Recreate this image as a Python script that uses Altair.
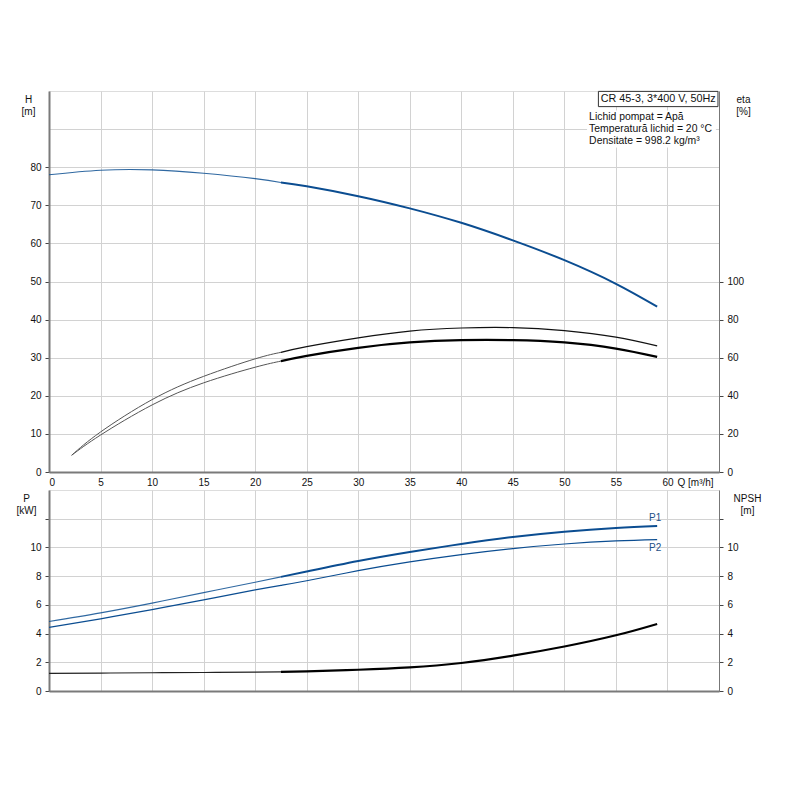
import altair as alt
import pandas as pd

# ---------------- data ----------------
Q_H = [0, 5, 10, 15, 20, 22.5, 25, 30, 35, 40, 45, 50, 55, 59]
H = [78.0, 79.2, 79.3, 78.4, 77.0, 76.0, 75.0, 72.4, 69.2, 65.4, 60.8, 55.6, 49.4, 43.4]

Q_ETA = [2.2, 5, 10, 15, 20, 22.5, 25, 30, 35, 40, 45, 50, 55, 59]
ETA_UPPER = [8.8, 21.0, 38.0, 50.2, 59.4, 62.8, 65.8, 70.4, 74.0, 75.6, 75.8, 74.2, 70.8, 66.2]
ETA_LOWER = [8.8, 19.4, 35.2, 46.8, 55.0, 58.2, 61.0, 65.2, 68.0, 69.2, 69.2, 68.0, 64.8, 60.4]

Q_P = [0, 5, 10, 15, 20, 22.5, 25, 30, 35, 40, 45, 50, 55, 59]
P1 = [4.84, 5.44, 6.12, 6.85, 7.58, 7.95, 8.32, 9.05, 9.68, 10.24, 10.73, 11.10, 11.36, 11.5]
P2 = [4.43, 5.03, 5.67, 6.35, 7.04, 7.36, 7.68, 8.38, 8.99, 9.50, 9.92, 10.24, 10.45, 10.54]
NPSH = [1.23, 1.25, 1.27, 1.29, 1.31, 1.33, 1.37, 1.48, 1.64, 1.95, 2.46, 3.1, 3.88, 4.67]

SPLIT_Q = 22.5

X_TICKS = list(range(0, 65, 5))
H_TICKS = list(range(0, 100, 10))
ETA_TICKS = list(range(0, 120, 20))
P_TICKS = list(range(0, 14, 2))

TITLE_BOX = "CR 45-3, 3*400 V, 50Hz"
INFO_LINES = ["Lichid pompat = Apă", "Temperatură lichid = 20 °C", "Densitate = 998.2 kg/m³"]

BLUE = "#0b4d91"
FONT = "Liberation Sans"
GRID = "#d2d2d2"
AXISC = "#7a7a7a"
INTERP = "natural"


def part(q, v, thick):
    rows = [(a, b) for a, b in zip(q, v) if (a >= SPLIT_Q if thick else a <= SPLIT_Q)]
    return pd.DataFrame({"Q": [r[0] for r in rows], "v": [r[1] for r in rows]})


# ---------------- axes ----------------
x_top_axis = alt.Axis(values=X_TICKS, grid=True, gridColor=GRID, ticks=False,
                      labelPadding=5, labelFont=FONT, labelFontSize=10, labelColor="#111",
                      domainColor=AXISC, domainWidth=2, title="Q [m³/h]",
                      titleFont=FONT, titleFontSize=10, titleFontWeight="normal",
                      titleAlign="left", titleBaseline="top", titleAnchor="start",
                      titleX=628, titleY=5, titleColor="#111")
x_bot_axis = alt.Axis(values=X_TICKS, grid=True, gridColor=GRID, ticks=False, labels=False,
                      domainColor=AXISC, domainWidth=2, title=None)
x_scale = alt.Scale(domain=[0, 65], nice=False, zero=False)

h_axis = alt.Axis(values=H_TICKS, grid=True, gridColor=GRID,
                  labelExpr="datum.value > 80 ? '' : datum.label",
                  tickOpacity={"condition": {"test": "datum.value > 80", "value": 0}, "value": 1},
                  tickSize=4, tickColor="#444", labelPadding=4,
                  labelFont=FONT, labelFontSize=10, labelColor="#111",
                  domainColor=AXISC, domainWidth=2,
                  title=["H", "[m]"], titleAngle=0, titleX=-21, titleY=3,
                  titleAlign="center", titleBaseline="top", titleFont=FONT,
                  titleFontSize=10, titleFontWeight="normal", titleLineHeight=12.5,
                  titleColor="#111")
h_scale = alt.Scale(domain=[0, 100], nice=False)

eta_axis = alt.Axis(orient="right", values=ETA_TICKS, grid=False,
                    tickSize=4, tickColor="#444", labelPadding=4,
                    labelFont=FONT, labelFontSize=10, labelColor="#111",
                    domainColor="#777", domainWidth=1,
                    title=["eta", "[%]"], titleAngle=0, titleX=24, titleY=3,
                    titleAlign="center", titleBaseline="top", titleFont=FONT,
                    titleFontSize=10, titleFontWeight="normal", titleLineHeight=12.5,
                    titleColor="#111")
eta_scale = alt.Scale(domain=[0, 200], nice=False)

p_axis = alt.Axis(values=P_TICKS, grid=True, gridColor=GRID,
                  labelExpr="datum.value > 10 ? '' : datum.label",
                  tickSize=4, tickColor="#444", labelPadding=4,
                  labelFont=FONT, labelFontSize=10, labelColor="#111",
                  domainColor=AXISC, domainWidth=2,
                  title=["P", "[kW]"], titleAngle=0, titleX=-23, titleY=3,
                  titleAlign="center", titleBaseline="top", titleFont=FONT,
                  titleFontSize=10, titleFontWeight="normal", titleLineHeight=12.5,
                  titleColor="#111")
npsh_axis = alt.Axis(orient="right", values=P_TICKS, grid=False,
                     labelExpr="datum.value > 10 ? '' : datum.label",
                     tickSize=4, tickColor="#444", labelPadding=4,
                     labelFont=FONT, labelFontSize=10, labelColor="#111",
                     domainColor="#777", domainWidth=1,
                     title=["NPSH", "[m]"], titleAngle=0, titleX=28, titleY=3,
                     titleAlign="center", titleBaseline="top", titleFont=FONT,
                     titleFontSize=10, titleFontWeight="normal", titleLineHeight=12.5,
                     titleColor="#111")
p_scale = alt.Scale(domain=[0, 14], nice=False)


def line(df, color, width, xaxis, yaxis, yscale, opacity=1.0):
    return alt.Chart(df).mark_line(color=color, strokeWidth=width, interpolate=INTERP,
                                   opacity=opacity, clip=True).encode(
        x=alt.X("Q:Q", scale=x_scale, axis=xaxis),
        y=alt.Y("v:Q", scale=yscale, axis=yaxis),
    )


# ---------------- top chart ----------------
box_df = pd.DataFrame({"Q": [53.3], "Q2": [64.9], "v": [95.9], "v2": [99.9]})
info_bg = pd.DataFrame({"Q": [52.2], "Q2": [64.7], "v": [85.2], "v2": [94.9]})
title_df = pd.DataFrame({"Q": [59.1], "v": [97.9], "t": [TITLE_BOX]})
info_df = pd.DataFrame({"Q": [52.4] * 3, "v": [93.1, 89.95, 86.8], "t": INFO_LINES})

h_group = alt.layer(
    line(part(Q_H, H, False), BLUE, 1.1, x_top_axis, h_axis, h_scale, 0.85),
    line(part(Q_H, H, True), BLUE, 2.0, x_top_axis, h_axis, h_scale),
    alt.Chart(info_bg).mark_rect(fill="white").encode(
        x=alt.X("Q:Q", scale=x_scale, axis=x_top_axis), x2="Q2",
        y=alt.Y("v:Q", scale=h_scale, axis=h_axis), y2="v2"),
    alt.Chart(box_df).mark_rect(fill="white", stroke="#333", strokeWidth=1).encode(
        x=alt.X("Q:Q", scale=x_scale, axis=x_top_axis), x2="Q2",
        y=alt.Y("v:Q", scale=h_scale, axis=h_axis), y2="v2"),
    alt.Chart(title_df).mark_text(font=FONT, fontSize=10.8, color="#111", align="center",
                                  baseline="middle").encode(
        x=alt.X("Q:Q", scale=x_scale, axis=x_top_axis),
        y=alt.Y("v:Q", scale=h_scale, axis=h_axis), text="t:N"),
    alt.Chart(info_df).mark_text(font=FONT, fontSize=10.4, color="#111", align="left",
                                 baseline="middle").encode(
        x=alt.X("Q:Q", scale=x_scale, axis=x_top_axis),
        y=alt.Y("v:Q", scale=h_scale, axis=h_axis), text="t:N"),
)

eta_group = alt.layer(
    line(part(Q_ETA, ETA_UPPER, False), "#555", 1.0, x_top_axis, eta_axis, eta_scale),
    line(part(Q_ETA, ETA_UPPER, True), "#111", 1.2, x_top_axis, eta_axis, eta_scale),
    line(part(Q_ETA, ETA_LOWER, False), "#555", 1.0, x_top_axis, eta_axis, eta_scale),
    line(part(Q_ETA, ETA_LOWER, True), "#000", 2.2, x_top_axis, eta_axis, eta_scale),
)

top = alt.layer(h_group, eta_group).resolve_scale(y="independent").properties(
    width=670, height=381)

# ---------------- bottom chart ----------------
lab_df = pd.DataFrame({"Q": [58.8, 58.8], "v": [12.05, 9.95], "t": ["P1", "P2"]})

p_group = alt.layer(
    line(part(Q_P, P1, False), BLUE, 1.1, x_bot_axis, p_axis, p_scale, 0.85),
    line(part(Q_P, P1, True), BLUE, 2.0, x_bot_axis, p_axis, p_scale),
    line(pd.DataFrame({"Q": Q_P, "v": P2}), BLUE, 1.2, x_bot_axis, p_axis, p_scale),
    alt.Chart(lab_df).mark_text(font=FONT, fontSize=10, color="#1d4f86", align="center",
                                baseline="middle").encode(
        x=alt.X("Q:Q", scale=x_scale, axis=x_bot_axis),
        y=alt.Y("v:Q", scale=p_scale, axis=p_axis), text="t:N"),
)

npsh_group = alt.layer(
    line(part(Q_P, NPSH, False), "#222", 1.2, x_bot_axis, npsh_axis, p_scale),
    line(part(Q_P, NPSH, True), "#000", 2.2, x_bot_axis, npsh_axis, p_scale),
)

bottom = alt.layer(p_group, npsh_group).resolve_scale(y="independent").properties(
    width=670, height=201)

chart = alt.vconcat(top, bottom, spacing=1).properties(
    padding={"left": 7, "top": 82, "right": 5, "bottom": 5}
).configure_view(stroke="#8a8a8a", strokeWidth=1).configure(background="white")

chart.save("out.html", embed_options={"renderer": "svg", "actions": False})
